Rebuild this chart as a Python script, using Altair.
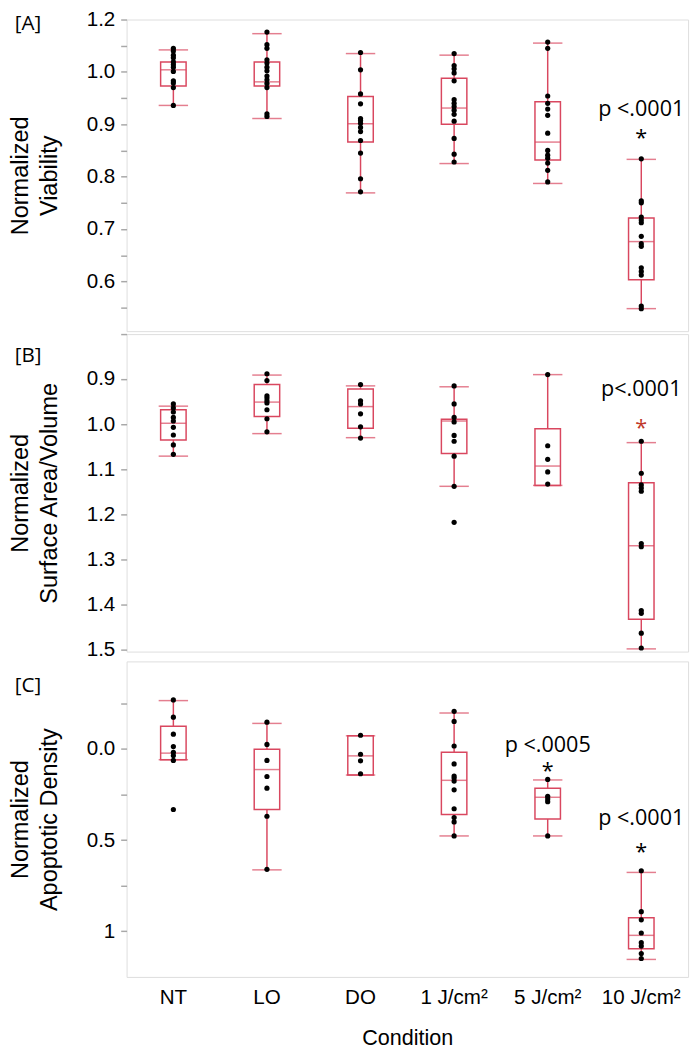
import altair as alt
import pandas as pd

CATS = ["NT", "LO", "DO", "1 J/cm²", "5 J/cm²", "10 J/cm²"]

# ---------- Panel A: Normalized Viability ----------
VIAB_NT = [1.045, 1.040, 1.032, 1.027, 1.019, 1.014, 1.009, 1.001, 0.983, 0.979, 0.970, 0.936]
VIAB_LO = [1.076, 1.052, 1.045, 1.023, 1.017, 1.009, 1.002, 0.992, 0.985, 0.978, 0.970, 0.920, 0.915]
VIAB_DO = [1.037, 1.004, 0.958, 0.939, 0.911, 0.907, 0.902, 0.894, 0.886, 0.869, 0.845, 0.796, 0.771]
VIAB_1J = [1.035, 1.012, 1.006, 0.998, 0.983, 0.947, 0.940, 0.934, 0.927, 0.919, 0.906, 0.873, 0.843, 0.828]
VIAB_5J = [1.057, 1.045, 0.954, 0.940, 0.929, 0.917, 0.883, 0.850, 0.841, 0.835, 0.826, 0.812, 0.790]
VIAB_10J = [0.834, 0.754, 0.750, 0.723, 0.717, 0.712, 0.686, 0.672, 0.667, 0.626, 0.619, 0.612, 0.553, 0.548]
VIAB_WLO = [0.936, 0.911, 0.769, 0.825, 0.787, 0.548]
VIAB_Q1 = [0.973, 0.973, 0.866, 0.900, 0.832, 0.603]
VIAB_MED = [1.004, 0.981, 0.901, 0.931, 0.866, 0.676]
VIAB_Q3 = [1.019, 1.019, 0.953, 0.988, 0.943, 0.721]
VIAB_WHI = [1.042, 1.073, 1.035, 1.032, 1.055, 0.833]
VIAB_TICKS = [0.55, 0.6, 0.65, 0.7, 0.75, 0.8, 0.85, 0.9, 0.95, 1.0, 1.05, 1.1]

# ---------- Panel B: Normalized Surface Area/Volume ----------
SAV_NT = [0.955, 0.964, 0.973, 0.985, 0.993, 1.007, 1.024, 1.046, 1.067]
SAV_LO = [0.888, 0.903, 0.937, 0.942, 0.948, 0.953, 0.968, 0.988, 1.017]
SAV_DO = [0.912, 0.948, 0.955, 0.977, 1.006, 1.031]
SAV_1J = [0.915, 0.955, 0.985, 0.995, 1.025, 1.038, 1.071, 1.138, 1.218]
SAV_5J = [0.890, 1.048, 1.078, 1.106, 1.133]
SAV_10J = [1.038, 1.109, 1.135, 1.142, 1.149, 1.265, 1.272, 1.414, 1.420, 1.464, 1.497]
SAV_WLO = [0.960, 0.891, 0.915, 0.917, 0.890, 1.041]
SAV_Q1 = [0.968, 0.912, 0.922, 0.989, 1.010, 1.130]
SAV_MED = [0.998, 0.951, 0.961, 0.993, 1.093, 1.270]
SAV_Q3 = [1.035, 0.983, 1.009, 1.065, 1.136, 1.433]
SAV_WHI = [1.071, 1.021, 1.030, 1.138, 1.136, 1.499]
SAV_TICKS = [0.8, 0.9, 1.0, 1.1, 1.2, 1.3, 1.4, 1.5]

# ---------- Panel C: Normalized Apoptotic Density ----------
APO_NT = [-0.269, -0.174, -0.081, -0.013, 0.018, 0.036, 0.063, 0.332]
APO_LO = [-0.147, -0.025, 0.063, 0.151, 0.215, 0.369, 0.660]
APO_DO = [-0.075, 0.029, 0.065, 0.136]
APO_1J = [-0.206, -0.151, -0.016, 0.082, 0.149, 0.160, 0.176, 0.224, 0.328, 0.376, 0.400, 0.477]
APO_5J = [0.167, 0.260, 0.274, 0.289, 0.477]
APO_10J = [0.668, 0.892, 0.937, 1.009, 1.062, 1.081, 1.122, 1.149]
APO_WLO = [-0.265, -0.140, -0.072, -0.197, 0.170, 0.677]
APO_Q1 = [-0.124, 0.002, -0.072, 0.018, 0.215, 0.925]
APO_MED = [0.023, 0.113, 0.038, 0.172, 0.265, 1.022]
APO_Q3 = [0.059, 0.332, 0.143, 0.360, 0.384, 1.095]
APO_WHI = [0.059, 0.663, 0.143, 0.477, 0.477, 1.154]
APO_TICKS = [-0.25, 0.0, 0.25, 0.5, 0.75, 1.0]

# ---------- annotations ----------
ANN_A_CAT = ["10 J/cm²", "10 J/cm²"]
ANN_A_VAL = [0.929, 0.873]
ANN_A_TXT = ["p <.0001", "*"]
ANN_A_COL = ["black", "black"]
ANN_B_CAT = ["10 J/cm²", "10 J/cm²"]
ANN_B_VAL = [0.922, 1.009]
ANN_B_TXT = ["p<.0001", "*"]
ANN_B_COL = ["black", "#C0392B"]
ANN_C_CAT = ["5 J/cm²", "5 J/cm²", "10 J/cm²", "10 J/cm²"]
ANN_C_VAL = [-0.022, 0.124, 0.382, 0.565]
ANN_C_TXT = ["p <.0005", "*", "p <.0001", "*"]
ANN_C_COL = ["black", "black", "black", "black"]

RED = "#D9475F"
FONT = "Open Sans"
W = 573


def panel(vals, wlo, q1, med, q3, whi, acat, aval, atxt, acol, letter, letter_y,
          domain, reverse, height, ticks, label_expr, title, show_x):
    pts = pd.DataFrame([{"cat": c, "v": v} for c, lst in zip(CATS, vals) for v in lst])
    box = pd.DataFrame({"cat": CATS, "wlo": wlo, "q1": q1, "med": med, "q3": q3, "whi": whi})
    ann = pd.DataFrame({"cat": acat, "v": aval, "t": atxt, "c": acol})
    lab = pd.DataFrame({"t": [letter]})

    ysc = alt.Scale(domain=domain, reverse=reverse, zero=False, nice=False)
    yax = alt.Axis(title=title, values=ticks, labelExpr=label_expr, grid=False,
                   domain=False, tickColor="#a8a8a8", tickSize=6, tickWidth=1.5,
                   labelPadding=6, titleX=-96, titleY=height / 2,
                   titleBaseline="bottom", titleLineHeight=30, labelFontSize=21,
                   titleFontSize=24, labelFontWeight="normal", titleFontWeight="normal")
    if show_x:
        xax = alt.Axis(title="Condition", labelAngle=0, ticks=False, domain=False,
                       labelPadding=10, titlePadding=21, labelFontSize=21,
                       titleFontSize=22, titleFontWeight="normal")
    else:
        xax = None
    X = alt.X("cat:N", sort=CATS, scale=alt.Scale(domain=CATS, paddingInner=0, paddingOuter=0), axis=xax)

    def Y(f):
        return alt.Y(f, type="quantitative", scale=ysc, axis=yax)

    boxes = alt.Chart(box).mark_bar(size=26, fill="transparent", stroke=RED, strokeWidth=1.5).encode(
        x=X, y=Y("q1"), y2="q3")
    meds = alt.Chart(box).mark_tick(size=26, thickness=1.5, color=RED).encode(x=X, y=Y("med"))
    w1 = alt.Chart(box).mark_rule(color=RED, strokeWidth=1.5).encode(x=X, y=Y("wlo"), y2="q1")
    w2 = alt.Chart(box).mark_rule(color=RED, strokeWidth=1.5).encode(x=X, y=Y("q3"), y2="whi")
    c1 = alt.Chart(box).mark_tick(size=30, thickness=1.5, color=RED).encode(x=X, y=Y("wlo"))
    c2 = alt.Chart(box).mark_tick(size=30, thickness=1.5, color=RED).encode(x=X, y=Y("whi"))
    dots = alt.Chart(pts).mark_circle(size=28, color="black", opacity=1).encode(x=X, y=Y("v"))
    txt = alt.Chart(ann).mark_text(font=FONT, fontSize=22, align="center", baseline="middle").encode(
        x=X, y=Y("v"), text="t:N", color=alt.Color("c:N", scale=None))
    let = alt.Chart(lab).mark_text(font=FONT, fontSize=21, align="left", baseline="middle").encode(
        x=alt.value(-114), y=alt.value(letter_y), text="t:N")
    return alt.layer(boxes, w1, w2, c1, c2, meds, dots, txt, let).properties(width=W, height=height)


A = panel([VIAB_NT, VIAB_LO, VIAB_DO, VIAB_1J, VIAB_5J, VIAB_10J],
          VIAB_WLO, VIAB_Q1, VIAB_MED, VIAB_Q3, VIAB_WHI,
          ANN_A_CAT, ANN_A_VAL, ANN_A_TXT, ANN_A_COL, "[A]", 5,
          [0.505, 1.1], False, 318, VIAB_TICKS,
          "round(datum.value*100) == 110 ? '1.2' : (round(datum.value*100) % 10 == 0 ? format(datum.value, '.1f') : '')",
          ["Normalized", "Viability"], False)
B = panel([SAV_NT, SAV_LO, SAV_DO, SAV_1J, SAV_5J, SAV_10J],
          SAV_WLO, SAV_Q1, SAV_MED, SAV_Q3, SAV_WHI,
          ANN_B_CAT, ANN_B_VAL, ANN_B_TXT, ANN_B_COL, "[B]", 22,
          [0.8, 1.505], True, 324, SAV_TICKS,
          "round(datum.value*100) == 80 ? '' : format(datum.value, '.1f')",
          ["Normalized", "Surface Area/Volume"], False)
C = panel([APO_NT, APO_LO, APO_DO, APO_1J, APO_5J, APO_10J],
          APO_WLO, APO_Q1, APO_MED, APO_Q3, APO_WHI,
          ANN_C_CAT, ANN_C_VAL, ANN_C_TXT, ANN_C_COL, "[C]", 25,
          [-0.48, 1.25], True, 322, APO_TICKS,
          "round(datum.value*100) == 100 ? '1' : (round(datum.value*100) % 50 == 0 ? format(datum.value, '.1f') : '')",
          ["Normalized", "Apoptotic Density"], True)

chart = alt.vconcat(A, B, C, spacing=0).resolve_scale(y="independent").configure_view(
    stroke="#b5b5b5", strokeWidth=1.5
).configure_axis(
    labelFont=FONT, titleFont=FONT, labelColor="black", titleColor="black"
).configure(padding={"left": 0, "top": -11, "right": 3, "bottom": 0})

chart.save("out.html", embed_options={"renderer": "svg", "actions": False})
